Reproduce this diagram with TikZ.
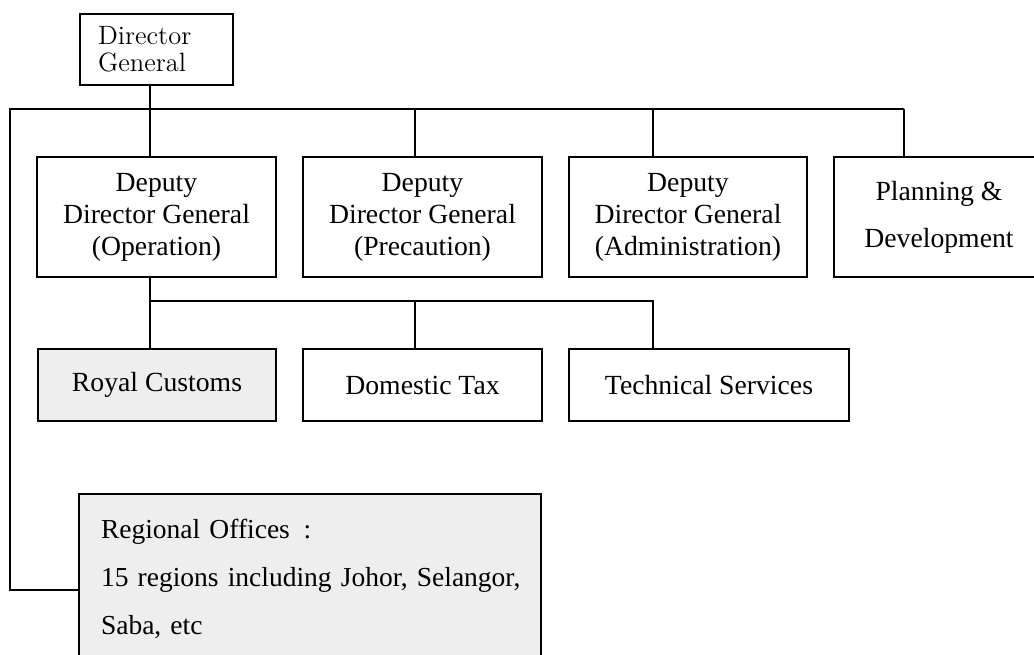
\documentclass[tikz,border=0pt]{standalone}
\usepackage{fontspec}
\newfontfamily\tnr{Liberation Serif}
\newfontfamily\lmr{lmroman12-regular.otf}
\definecolor{boxgray}{RGB}{238,238,238}
\begin{document}
\begin{tikzpicture}[x=1pt,y=-1pt,
  box/.style={draw, line width=1.7pt, rectangle, anchor=north west,
    inner sep=0pt, outer sep=0pt, align=center,
    font=\tnr\fontsize{27.7}{32}\selectfont},
  shaded/.style={fill=boxgray},
  link/.style={line width=1.7pt, line join=miter}]
\clip (0,0) rectangle (1034,654);

% top level
\node[box, minimum height=71pt, text width=117pt, inner xsep=18pt, align=left,
      font=\lmr\fontsize{26.5}{27}\selectfont] (dg) at (80,14) {Director\\General};

% deputies
\node[box, minimum width=239pt, minimum height=120pt] (d1) at (37,157)
  {Deputy\\Director General\\(Operation)};
\node[box, minimum width=239pt, minimum height=120pt] (d2) at (303,157)
  {Deputy\\Director General\\(Precaution)};
\node[box, minimum width=238pt, minimum height=120pt] (d3) at (569,157)
  {Deputy\\Director General\\(Administration)};
\node[box, minimum width=210pt, minimum height=120pt,
      font=\tnr\fontsize{27.7}{47}\selectfont] (d4) at (834,157)
  {Planning \&\\Development};

% operation departments
\node[box, shaded, minimum width=238pt, minimum height=72pt] (rc) at (38,349) {Royal Customs};
\node[box, minimum width=239pt, minimum height=72pt] (dt) at (303,349) {Domestic Tax};
\node[box, minimum width=280pt, minimum height=72pt] (ts) at (569,349) {Technical Services};

% regional offices (lines kept unbroken)
\node[box, shaded, text width=418pt, inner xsep=22pt, inner ysep=25.5pt, align=left,
      font=\tnr\fontsize{27.5}{48}\selectfont] (ro) at (79,494)
  {\mbox{Regional Offices\enspace:}\\
   \mbox{15 regions including Johor, Selangor,}\\
   \mbox{Saba, etc}};

% bus points
\coordinate (busW) at (10,109);
\coordinate (c1) at (150,109);
\coordinate (c2) at (415,109);
\coordinate (c3) at (653,109);
\coordinate (c4) at (904,109);
\coordinate (rojoin) at (10,590);
\coordinate (s1) at (150,301);
\coordinate (s2) at (415,301);
\coordinate (s3) at (653,301);

% connectors: director general to deputies and regions
\draw[link] (c1 |- dg.south) -- (c1 |- d1.north);
\draw[link] (c4) -- (busW) -- (rojoin) -- (rojoin -| ro.west);
\draw[link] (c2) -- (c2 |- d2.north);
\draw[link] (c3) -- (c3 |- d3.north);
\draw[link] (c4) -- (c4 |- d4.north);

% connectors: operation deputy to departments
\draw[link] (s1 |- d1.south) -- (s1 |- rc.north);
\draw[link] (s1) -- (s3) -- (s3 |- ts.north);
\draw[link] (s2) -- (s2 |- dt.north);
\end{tikzpicture}
\end{document}
